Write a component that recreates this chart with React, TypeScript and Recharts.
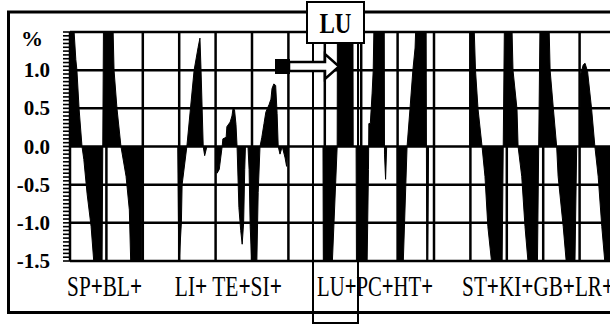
import { Area, ComposedChart, ReferenceLine, XAxis, YAxis } from "recharts";

// waveform vertices, x in grid columns, value in %
const sampleX = [
  0.0, 0.1, 0.16, 0.19, 0.25, 0.33, 0.38, 0.47, 0.58, 0.66, 0.88, 0.93,
  1.18, 1.21, 1.29, 1.4, 1.54, 1.63, 1.67, 1.97, 1.98,
  2.96, 2.99, 3.06, 3.08, 3.21, 3.31, 3.41, 3.52, 3.57, 3.6, 3.63, 3.66, 3.7, 3.76,
  4.0, 4.04, 4.1, 4.18, 4.2, 4.29, 4.31, 4.4, 4.45, 4.48, 4.52, 4.56, 4.59, 4.64, 4.69, 4.73, 4.77, 4.8, 4.82,
  4.89, 4.92, 4.95, 5.0, 5.13, 5.17, 5.22, 5.27, 5.33, 5.38, 5.47, 5.52, 5.55, 5.6, 5.65, 5.69, 5.72, 5.77, 5.83, 5.91, 5.95, 5.98,
  6.95, 6.96, 7.2, 7.34, 7.35, 7.77, 7.78,
  7.86, 7.87, 8.16, 8.2, 8.21, 8.25, 8.3, 8.33, 8.38, 8.63, 8.64, 8.67, 8.7,
  8.99, 9.0, 9.15, 9.26, 9.34, 9.42, 9.48, 9.56, 9.78, 9.8, 9.83, 9.85,
  10.98, 10.99, 11.1, 11.14, 11.21, 11.32, 11.4, 11.48, 11.59, 11.87, 11.95,
  12.14, 12.17, 12.28, 12.31, 12.41, 12.5, 12.59, 12.84, 12.93,
  13.16, 13.19, 13.28, 13.37, 13.41, 13.55, 13.64, 13.87, 13.92,
  14.0, 14.03, 14.1, 14.15, 14.22, 14.33, 14.42, 14.51, 14.61, 14.7, 15.0,
];

const signal = [
  2.4, 1.6, 1.14, 1.0, 0.49, 0, -0.17, -0.62, -1.05, -1.55, -1.6, 2.4,
  1.6, 1.0, 0.5, 0, -0.39, -0.83, -1.55, -1.6, 0,
  0, -1.58, -1.0, -0.5, 0, 0.5, 1.0, 1.3, 1.42, 1.0, 0.5, 0, -0.12, 0,
  0, -0.35, -0.3, 0, 0.1, 0.12, 0.26, 0.32, 0.4, 0.5, 0.48, 0.29, 0, -0.8, -1.1, -1.28, -1.0, -0.3, 0,
  0, -0.3, -1.05, -1.58, -1.58, -0.6, 0, 0.12, 0.3, 0.45, 0.55, 0.62, 0.76, 0.82, 0.8, 0.43, 0, -0.1, 0, -0.15, -0.26, 0,
  0, -1.6, -1.6, 0, 2.4, 2.4, 0,
  0, -1.6, -1.6, -0.3, 0.3, 0.3, 0.7, 1.0, 2.4, 2.4, -0.1, -0.43, 0,
  0, -1.6, -1.6, 0, 0.49, 1.0, 1.29, 2.4, 2.4, -1.6, -1.6, 0,
  0, 2.4, 1.6, 1.0, 0.49, 0, -0.39, -1.05, -1.55, -1.6, 2.4,
  1.6, 1.0, 0.49, 0, -0.39, -1.05, -1.55, -1.6, 2.4,
  1.6, 1.0, 0.49, 0, -0.39, -1.05, -1.55, -1.6, 0,
  0, 0.95, 1.07, 1.09, 0.98, 0.49, 0, -0.39, -1.05, -1.55, -1.6,
];

const groupLabels = ["SP+BL+", "LI+ TE+SI+", "LU+PC+HT+", "ST+KI+GB+LR+"];
const groupTicks = [0.95, 4.35, 8.38, 12.86];
const yTickLabels = ["-1.5", "-1.0", "-0.5", "0.0", "0.5", "1.0", "%"];
const yMajorTicks = [-1.5, -1.0, -0.5, 0, 0.5, 1.0, 1.5];
const gridX = [0, 1, 2, 3, 4, 5, 6, 7, 8, 9, 10, 11, 12, 13, 14, 15];
const gridY = [-1.5, -1.0, -0.5, 0, 0.5, 1.0, 1.5];

const rows = sampleX.map((x, i) => ({ x, v: signal[i] }));
const minorTicks = Array.from({ length: 61 }, (_, i) => Math.round((-1.5 + i * 0.05) * 100) / 100);

const FONT = '"Liberation Serif", "DejaVu Serif", serif';
const labelWidths = [75, 107, 116, 152];

// plot box of the chart below (margins + axis sizes)
const PLOT_LEFT = 70;
const PLOT_TOP = 32;
const PLOT_H = 327 - 32 - 66;
const tickY = (v: number) => PLOT_TOP + ((1.5 - v) / 3) * PLOT_H;

function YTick(props: any) {
  const x = Number(props.x);
  const y = Number(props.y);
  const idx = Number(props.index);
  const text = yTickLabels[idx];
  const isPct = text === "%";
  return (
    <text
      x={x}
      y={y}
      dx={isPct ? -7 : 0}
      dy={isPct ? 6 : 0}
      textAnchor="end"
      dominantBaseline="central"
      fontFamily={FONT}
      fontWeight="bold"
      fontSize={isPct ? 22 : 21}
      fill="#000"
    >
      {text}
    </text>
  );
}

function GroupTick(props: any) {
  const { x, y, index } = props;
  const label = groupLabels[index] ?? "";
  const parts = label.split(/(\+)/).filter((p: string) => p.length > 0);
  return (
    <text
      x={x}
      y={y}
      dy={35}
      textAnchor="middle"
      fontFamily={FONT}
      fontSize={30}
      fill="#000"
      textLength={labelWidths[index]}
      lengthAdjust="spacingAndGlyphs"
    >
      {parts.map((p: string, i: number) => (
        <tspan key={i} fontWeight={p === "+" ? "bold" : "normal"}>
          {p}
        </tspan>
      ))}
    </text>
  );
}

export default function App() {
  return (
    <div
      style={{
        position: "absolute",
        left: 0,
        top: 0,
        width: 610,
        height: 327,
        overflow: "hidden",
        background: "#fff",
      }}
    >
      <ComposedChart
        width={640}
        height={327}
        data={rows}
        margin={{ top: 32, right: 24, bottom: 26, left: 0 }}
      >
        <XAxis
          dataKey="x"
          type="number"
          domain={[0, 15]}
          ticks={groupTicks}
          interval={0}
          axisLine={false}
          tickLine={false}
          tickSize={0}
          tickMargin={0}
          height={40}
          tick={<GroupTick />}
          allowDataOverflow
        />
        <YAxis
          type="number"
          domain={[-1.5, 1.5]}
          ticks={yMajorTicks}
          interval={0}
          width={70}
          tickSize={6}
          tickMargin={14}
          axisLine={false}
          tickLine={false}
          tick={<YTick />}
          allowDataOverflow
        />
        <Area
          type="linear"
          dataKey="v"
          stroke="#000"
          strokeWidth={1}
          fill="#000"
          fillOpacity={1}
          baseValue={0}
          dot={false}
          activeDot={false}
          isAnimationActive={false}
        />
        {gridX.map((gx) => (
          <ReferenceLine key={`gx${gx}`} x={gx} stroke="#000" strokeWidth={2.5} />
        ))}
        {gridY.map((gy) => (
          <ReferenceLine key={`gy${gy}`} y={gy} stroke="#000" strokeWidth={2.5} />
        ))}
      </ComposedChart>
      <svg
        width={610}
        height={327}
        style={{ position: "absolute", left: 0, top: 0, pointerEvents: "none" }}
      >
        <rect x={8.5} y={12} width={700} height={300.5} fill="none" stroke="#000" strokeWidth={3} />
        {/* dense minor ticks on the outside of the % axis */}
        {minorTicks.map((t) => (
          <line
            key={t}
            x1={PLOT_LEFT - 7}
            x2={PLOT_LEFT}
            y1={tickY(t)}
            y2={tickY(t)}
            stroke="#000"
            strokeWidth={1.6}
          />
        ))}
        <rect x={313} y={43} width={45} height={280} fill="none" stroke="#000" strokeWidth={2} />
        <rect x={307} y={2} width={57} height={41} fill="#fff" stroke="#000" strokeWidth={2} />
        <text
          x={335.5}
          y={33}
          textAnchor="middle"
          fontFamily={FONT}
          fontWeight="bold"
          fontSize={29}
          textLength={32}
          lengthAdjust="spacingAndGlyphs"
          fill="#000"
        >
          LU
        </text>
        <rect x={275} y={59} width={15} height={15} fill="#000" />
        <polygon
          points="289,62 325,62 325,54 339,66.5 325,79 325,71 289,71"
          fill="#fff"
          stroke="#000"
          strokeWidth={2.5}
        />
      </svg>
    </div>
  );
}
